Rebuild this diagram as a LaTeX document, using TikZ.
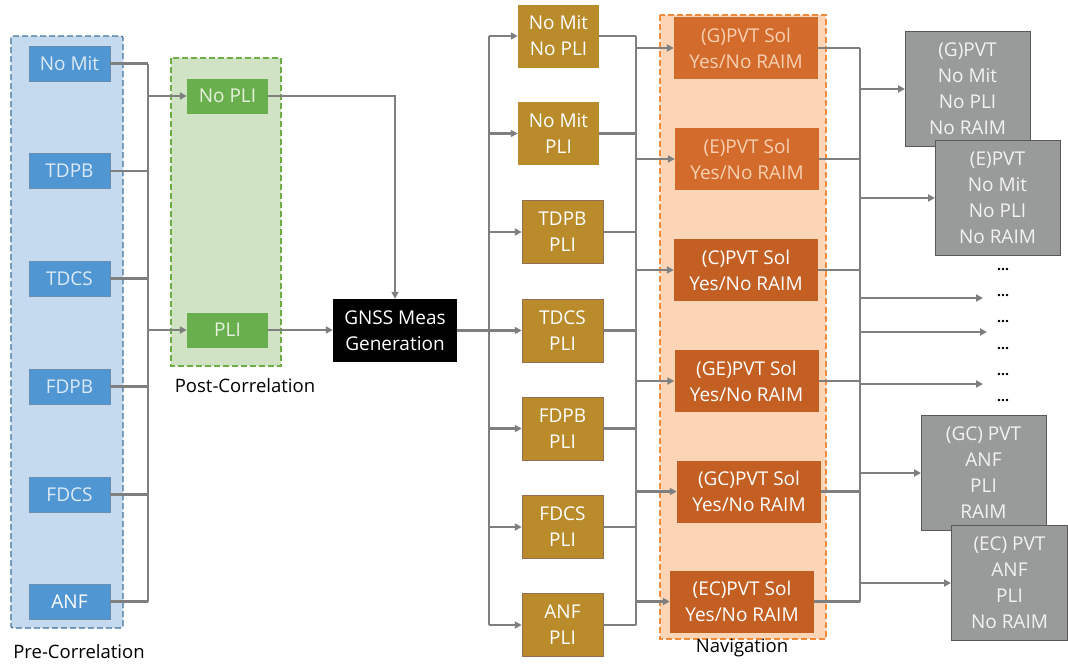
\documentclass[tikz,border=0pt]{standalone}
\usepackage{fontspec}
\setmainfont{Open Sans}
\usetikzlibrary{arrows.meta}
\definecolor{linegray}{HTML}{7F7F7F}
\definecolor{prefill}{HTML}{C5D9EF}
\definecolor{preborder}{HTML}{41719C}
\definecolor{prebox}{HTML}{4F96D2}
\definecolor{pretext}{HTML}{DCEAF7}
\definecolor{postfill}{HTML}{D0E3C5}
\definecolor{postborder}{HTML}{70AD47}
\definecolor{postbox}{HTML}{6AAF4E}
\definecolor{posttext}{HTML}{E6F1DE}
\definecolor{goldbox}{HTML}{B98B2A}
\definecolor{navfill}{HTML}{FBD5B5}
\definecolor{navborder}{HTML}{F08A3C}
\definecolor{navboxA}{HTML}{D36B2C}
\definecolor{navboxB}{HTML}{C45F24}
\definecolor{navtextA}{HTML}{F8D0B2}
\definecolor{graybox}{HTML}{999B9B}
\definecolor{grayborder}{HTML}{595959}
\newcommand{\boxfont}{\fontsize{19}{26}\selectfont}
\tikzset{
  conn/.style={draw=linegray, line width=2.6pt},
  arr/.style={conn, -{Triangle[length=7pt,width=7pt]}},
  groupbox/.style={dash pattern=on 6pt off 3pt, line width=1.2pt},
  basebox/.style={rectangle, inner sep=0pt, align=center, font=\boxfont},
  prebx/.style={basebox, fill=prebox, draw=preborder!80, line width=0.6pt, minimum width=81pt, minimum height=35pt, text=pretext},
  postbx/.style={basebox, fill=postbox, minimum width=81pt, minimum height=35pt, text=posttext},
  goldbx/.style={basebox, fill=goldbox, draw=goldbox!80!blue, line width=0.5pt, minimum width=81pt, minimum height=63pt, text=white},
  navbx/.style={basebox, fill=navboxB, minimum width=144pt, minimum height=62pt, text=white},
  graybx/.style={basebox, fill=graybox, draw=grayborder, line width=1pt, minimum width=125pt, minimum height=115pt, text=white!95!black},
  dotsn/.style={font=\bfseries\fontsize{14}{14}\selectfont, inner sep=0pt},
  grouplabel/.style={font=\fontsize{18.5}{20}\selectfont, text=black, inner sep=0pt}
}
\begin{document}
\begin{tikzpicture}[x=1pt,y=-1pt]
\useasboundingbox (0,0) rectangle (1068,664);
\fill[white] (0,0) rectangle (1068,664);
% containers
\draw[groupbox, fill=prefill, draw=preborder, rounded corners=2pt] (11,36) rectangle (123,628);
\draw[groupbox, fill=postfill, draw=postborder] (171,58) rectangle (281,366);
\draw[groupbox, fill=navfill, draw=navborder] (660,15) rectangle (826,639);
\node[grouplabel] (prelab) at (79,652) {Pre-Correlation};
\node[grouplabel] (postlab) at (245,386) {Post-Correlation};
\node[grouplabel] (navlab) at (742,648) {Navigation};
% pre boxes
\node[prebx] (p1) at (69.5,63.5) {No Mit};
\node[prebx] (p2) at (69.5,171) {TDPB};
\node[prebx] (p3) at (69.5,278.5) {TDCS};
\node[prebx] (p4) at (69.5,386.5) {FDPB};
\node[prebx] (p5) at (69.5,494.5) {FDCS};
\node[prebx, text=white] (p6) at (69.5,601.5) {ANF};
% post boxes
\node[postbx] (nopli) at (227.5,96) {No PLI};
\node[postbx] (pli) at (227.5,330) {PLI};
% GNSS
\node[basebox, fill=black, text=white, minimum width=124pt, minimum height=63pt] (gnss) at (395,330.5) {GNSS Meas\\Generation};
% gold
\node[goldbx, draw=none] (g1) at (558.5,36) {No Mit\\No PLI};
\node[goldbx, draw=none] (g2) at (558.5,133.5) {No Mit\\PLI};
\node[goldbx] (g3) at (562.5,232) {TDPB\\PLI};
\node[goldbx] (g4) at (562.5,330.5) {TDCS\\PLI};
\node[goldbx] (g5) at (562.5,428.5) {FDPB\\PLI};
\node[goldbx] (g6) at (562.5,527) {FDCS\\PLI};
\node[goldbx] (g7) at (562.5,625) {ANF\\PLI};
% navigation
\node[navbx, fill=navboxA, text=navtextA] (n1) at (746,48) {(G)PVT Sol\\Yes/No RAIM};
\node[navbx, fill=navboxA, text=navtextA] (n2) at (747,159) {(E)PVT Sol\\Yes/No RAIM};
\node[navbx] (n3) at (746,270) {(C)PVT Sol\\Yes/No RAIM};
\node[navbx] (n4) at (746.5,381) {(GE)PVT Sol\\Yes/No RAIM};
\node[navbx] (n5) at (749,491.5) {(GC)PVT Sol\\Yes/No RAIM};
\node[navbx] (n6) at (742,601.5) {(EC)PVT Sol\\Yes/No RAIM};
% gray outputs (positions)
\coordinate (o1) at (967.5,88.5);
\coordinate (o2) at (997.5,198);
\coordinate (o3) at (983.5,472.5);
\coordinate (o4) at (1009.5,583);
% dots
\node[dotsn] (d1) at (1003,270) {...};
\node[dotsn] (d2) at (1003,296) {...};
\node[dotsn] (d3) at (1003,322) {...};
\node[dotsn] (d4) at (1003,349) {...};
\node[dotsn] (d5) at (1003,375) {...};
\node[dotsn] (d6) at (1003,401) {...};
% bus coordinates
\coordinate (b1top) at (148,63.5);
\coordinate (b1bot) at (148,601.5);
\coordinate (b2top) at (489,36);
\coordinate (b2bot) at (489,625);
\coordinate (b3top) at (636,36);
\coordinate (b3bot) at (636,625);
\coordinate (b4top) at (860,48);
\coordinate (b4bot) at (860,601.5);
\coordinate (e1) at (983,298);
\coordinate (e2) at (987,332);
\coordinate (e3) at (983,384);
% pre -> post
\draw[conn] (b1top) -- (b1bot);
\foreach \i in {1,...,6} {\draw[conn] (p\i.east) -- (b1top |- p\i.east);}
\draw[arr] (b1top |- nopli.west) -- (nopli.west);
\draw[arr] (b1top |- pli.west) -- (pli.west);
% post -> gnss
\draw[arr] (nopli.east) -| (gnss.north);
\draw[arr] (pli.east) -- (gnss.west |- pli.east);
% gnss -> gold
\draw[conn] (gnss.east) -- (b2top |- gnss.east);
\draw[conn] (b2top) -- (b2bot);
\foreach \i in {1,...,7} {\draw[arr] (b2top |- g\i.west) -- (g\i.west);}
% gold -> nav
\draw[conn] (b3top) -- (b3bot);
\foreach \i in {1,...,7} {\draw[conn] (g\i.east) -- (b3top |- g\i.east);}
\foreach \i in {1,...,6} {\draw[arr] (b3top |- n\i.west) -- (n\i.west);}
% nav -> outputs
\draw[conn] (b4top) -- (b4bot);
\foreach \i in {1,...,6} {\draw[conn] (n\i.east) -- (b4top |- n\i.east);}
\draw[arr] (860,89) -- (905,89);
\draw[arr] (860,198) -- (935,198);
\draw[arr] (b4top |- e1) -- (e1);
\draw[arr] (b4top |- e2) -- (e2);
\draw[arr] (b4top |- e3) -- (e3);
\draw[arr] (860,473) -- (921,473);
\draw[arr] (860,583) -- (951,583);
% gray boxes drawn on top (E over G, EC over GC)
\node[graybx] (og) at (o1) {(G)PVT\\No Mit\\No PLI\\No RAIM};
\node[graybx] (oe) at (o2) {(E)PVT\\No Mit\\No PLI\\No RAIM};
\node[graybx] (ogc) at (o3) {(GC) PVT\\ANF\\PLI\\RAIM};
\node[graybx, minimum width=116pt] (oec) at (o4) {(EC) PVT\\ANF\\PLI\\No RAIM};
\end{tikzpicture}
\end{document}
